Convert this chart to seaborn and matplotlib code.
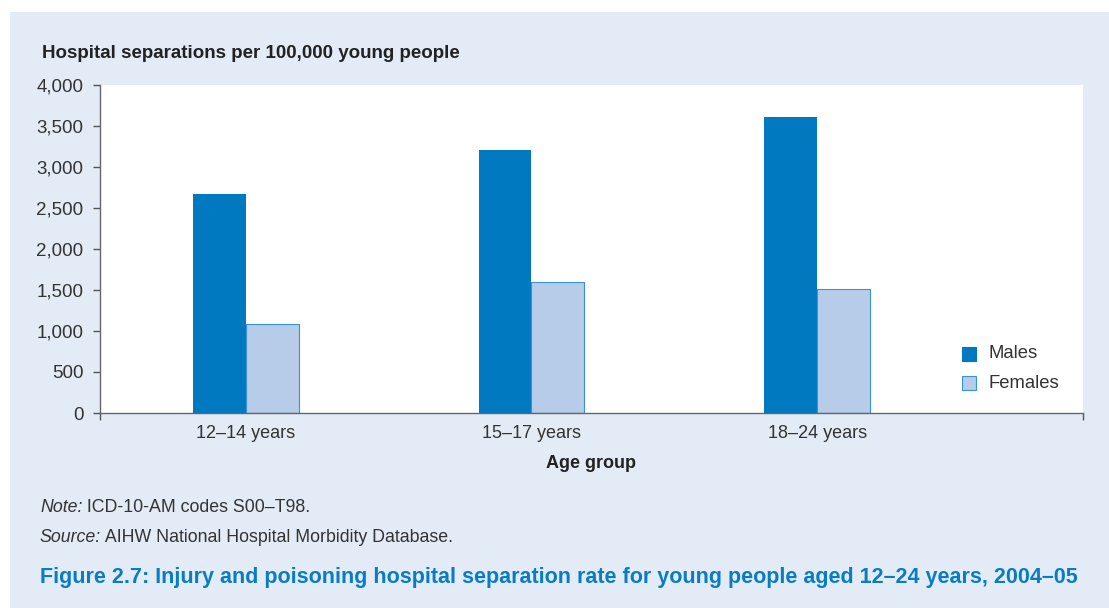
import matplotlib
matplotlib.use('Agg')
import matplotlib.pyplot as plt
from matplotlib.patches import Rectangle
import pandas as pd
import seaborn as sns

grupos = ['12–14 years', '15–17 years', '18–24 years']
homens = [2670, 3210, 3610]
mulheres = [1085, 1600, 1515]

cor_fundo = '#e3ebf6'
cor_homens = '#0079c1'
cor_mulheres = '#b7cce8'
cor_texto = '#333333'

df = pd.DataFrame({'grupo': grupos * 2,
                   'sexo': ['Males'] * 3 + ['Females'] * 3,
                   'taxa': homens + mulheres})

sns.set_style('white')
plt.rcParams['font.family'] = ['Liberation Sans', 'DejaVu Sans']

fig = plt.figure(figsize=(11.09, 6.08), dpi=100)
fig.patches.append(Rectangle((10 / 1109, 0), 1, 1 - 12 / 608, transform=fig.transFigure,
                             facecolor=cor_fundo, edgecolor='none', zorder=-10))
ax = fig.add_axes([100 / 1109, 1 - 413 / 608, 983 / 1109, 328 / 608])
ax.set_facecolor('white')

grafico = sns.barplot(data=df, x='grupo', y='taxa', hue='sexo',
                      palette={'Males': cor_homens, 'Females': cor_mulheres},
                      width=0.37, gap=0, dodge=True, saturation=1, linewidth=0,
                      ax=ax, legend=False)
for p in grafico.patches:
    if p.get_facecolor()[:3] == matplotlib.colors.to_rgb(cor_mulheres):
        p.set_edgecolor('#3a93d3')
        p.set_linewidth(0.8)

ax.set_xlim(-0.51, 2.93)
ax.set_ylim(0, 4000)
ax.set_yticks(range(0, 4001, 500))
ax.set_yticklabels([f'{v:,}' for v in range(0, 4001, 500)], fontsize=13.5, color=cor_texto)
ax.set_xticks(range(3))
ax.set_xticklabels(grupos, fontsize=13, color=cor_texto)
ax.tick_params(axis='x', length=0, pad=9)
ax.tick_params(axis='y', length=5, width=1, color='#555555', pad=7, left=True)
ax.set_xticks([-0.51, 2.93], minor=True)
ax.tick_params(axis='x', which='minor', length=5, width=1, color='#555555', bottom=True)
for lado in ['top', 'right']:
    ax.spines[lado].set_visible(False)
for lado in ['left', 'bottom']:
    ax.spines[lado].set_color('#666666')
    ax.spines[lado].set_linewidth(1)
ax.set_xlabel('Age group', fontsize=13, fontweight='bold', color='#222222', labelpad=9)
ax.set_ylabel('')

# legenda
for rotulo, cor, yy in [('Males', cor_homens, 354), ('Females', cor_mulheres, 383)]:
    fig.patches.append(Rectangle((962 / 1109, 1 - (yy + 7) / 608), 14 / 1109, 14 / 608,
                                 transform=fig.transFigure, facecolor=cor,
                                 edgecolor='#3a93d3' if rotulo == 'Females' else cor, linewidth=0.8))
    fig.text(988 / 1109, 1 - yy / 608, rotulo, fontsize=13.3, color=cor_texto, va='center')

fig.text(42 / 1109, 1 - 53 / 608, 'Hospital separations per 100,000 young people',
         fontsize=13.5, fontweight='bold', color='#222222', va='center')

# notas: parte em itálico seguida do texto normal
for rotulo, texto, yy in [('Note:', ' ICD-10-AM codes S00–T98.', 508),
                          ('Source:', ' AIHW National Hospital Morbidity Database.', 538)]:
    t = fig.text(40 / 1109, 1 - yy / 608, rotulo, fontsize=12.8, style='italic',
                 color=cor_texto, va='center')
    ax.annotate(texto, xy=(1, 0), xycoords=t, va='bottom', ha='left',
                fontsize=12.8, color=cor_texto, annotation_clip=False)

fig.text(40 / 1109, 1 - 578 / 608,
         'Figure 2.7: Injury and poisoning hospital separation rate for young people aged 12–24 years, 2004–05',
         fontsize=15.5, fontweight='bold', color='#0a7dc2', va='center',
         family=['Liberation Sans Narrow', 'Liberation Sans', 'DejaVu Sans'])

fig.savefig('out.png', dpi=100)
